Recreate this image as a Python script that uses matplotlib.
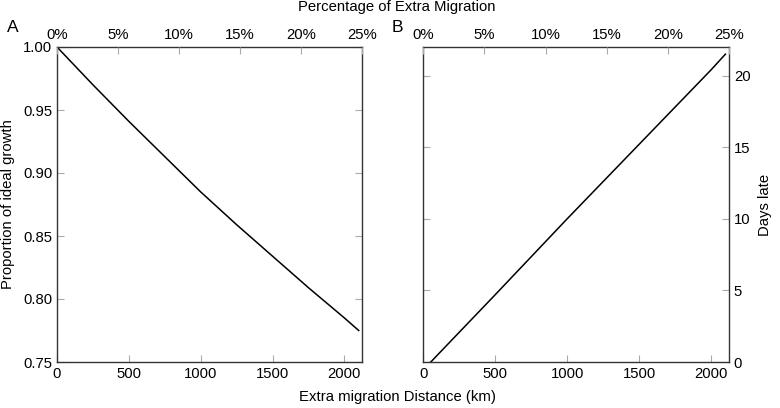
import matplotlib
matplotlib.use("Agg")
import matplotlib.pyplot as plt
from matplotlib.ticker import FuncFormatter

plt.rcParams['font.family'] = ['Liberation Sans', 'DejaVu Sans']
FS = 10.7
plt.rcParams['font.size'] = FS

# Data
dist_growth = [0, 250, 500, 750, 1000, 1250, 1500, 1750, 2000, 2100]
growth = [1.000, 0.970, 0.941, 0.913, 0.885, 0.859, 0.834, 0.809, 0.785, 0.775]

dist_days = [52, 500, 1000, 1500, 2000, 2100]
days_late = [0.0, 4.7, 10.0, 15.2, 20.4, 21.5]

x_ticks = [0, 500, 1000, 1500, 2000]
pct_ticks = [0, 5, 10, 15, 20, 25]
growth_ticks = [0.75, 0.80, 0.85, 0.90, 0.95, 1.00]
days_ticks = [0, 5, 10, 15, 20]

X_MAX = 2125
PCT_MAX = 25

W, H = 780, 408
fig = plt.figure(figsize=(W / 100, H / 100), dpi=100)

def frac(x0, y0, x1, y1):
    return [x0 / W, 1 - y1 / H, (x1 - x0) / W, (y1 - y0) / H]

axA = fig.add_axes(frac(57, 47, 362.3, 362))
axB = fig.add_axes(frac(423.3, 47, 729, 362))

spine_col = '#333333'
tick_col = '#aaaaaa'

for ax in (axA, axB):
    for s in ax.spines.values():
        s.set_color(spine_col)
        s.set_linewidth(1.0)
    ax.set_xlim(0, X_MAX)
    ax.set_xticks(x_ticks)
    ax.tick_params(axis='both', direction='in', length=5, width=0.8, color=tick_col,
                   labelcolor='black', labelsize=FS, pad=3.5)
    ax.tick_params(axis='x', top=False)
    top = ax.twiny()
    top.set_xlim(0, PCT_MAX)
    top.set_xticks(pct_ticks)
    top.xaxis.set_major_formatter(FuncFormatter(lambda v, p: f"{int(v)}%"))
    top.tick_params(axis='x', direction='in', length=5, width=0.8, color=tick_col,
                    labelsize=FS, pad=3.5)
    for s in top.spines.values():
        s.set_visible(False)

axA.plot(dist_growth, growth, color='black', lw=1.1)
axA.set_ylim(0.75, 1.00)
axA.set_yticks(growth_ticks)
axA.yaxis.set_major_formatter(FuncFormatter(lambda v, p: f"{v:.2f}"))
axA.tick_params(axis='y', right=True, left=True)

axB.plot(dist_days, days_late, color='black', lw=1.1)
axB.set_ylim(0, 22)
axB.set_yticks(days_ticks)
axB.yaxis.tick_right()
axB.tick_params(axis='y', left=True, right=True, labelleft=False, labelright=True)

fig.text(397 / W, 1 - 7.5 / H, 'Percentage of Extra Migration', ha='center', va='center', fontsize=FS)
fig.text(397 / W, 1 - 397 / H, 'Extra migration Distance (km)', ha='center', va='center', fontsize=FS)
fig.text(8.5 / W, 1 - 204.5 / H, 'Proportion of ideal growth', ha='center', va='center',
         rotation=90, fontsize=FS)
fig.text(765 / W, 1 - 204.5 / H, 'Days late', ha='center', va='center', rotation=90, fontsize=FS)
fig.text(13 / W, 1 - 28 / H, 'A', ha='center', va='center', fontsize=12.5)
fig.text(397 / W, 1 - 28 / H, 'B', ha='center', va='center', fontsize=12.5)

fig.savefig('out.png', dpi=100)
